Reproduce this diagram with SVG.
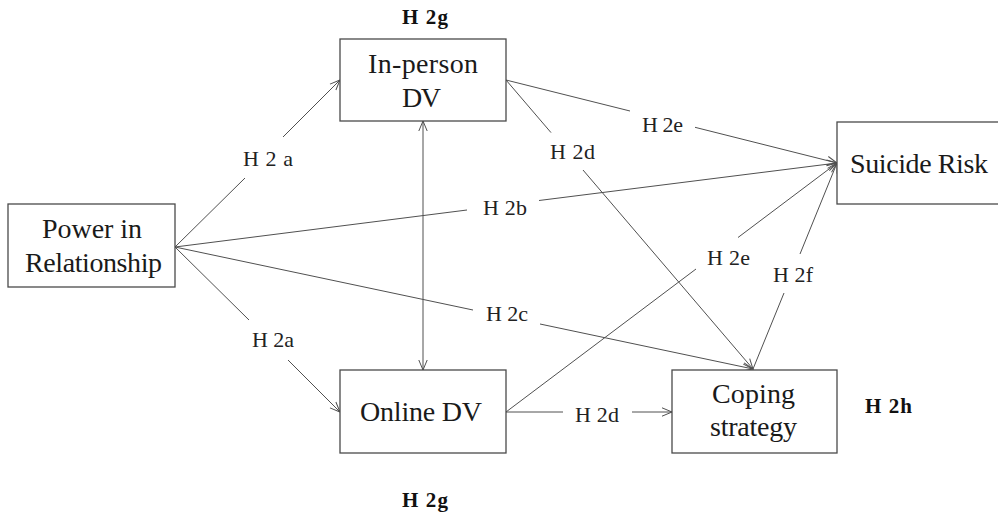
<svg xmlns="http://www.w3.org/2000/svg" width="998" height="512" viewBox="0 0 998 512">
  <style>
    .box { fill: #ffffff; stroke: #4a4a4a; stroke-width: 1.3; }
    .node { font-family: "Liberation Serif", "Times New Roman", serif; font-size: 28px; fill: #1a1a1a; }
    .lbl { font-family: "Liberation Serif", "Times New Roman", serif; font-size: 22px; fill: #222222; }
    .hyp { font-family: "Liberation Serif", "Times New Roman", serif; font-size: 21px; font-weight: bold; fill: #111111; }
    .edge { stroke: #505050; stroke-width: 1; fill: none; }
  </style>
  <defs>
    <marker id="arrow" markerUnits="userSpaceOnUse" markerWidth="14" markerHeight="12" refX="11" refY="6" orient="auto-start-reverse">
      <path d="M1,1.8 L11,6 L1,10.2" fill="none" stroke="#505050" stroke-width="1"/>
    </marker>
  </defs>

  <!-- connectors -->
  <g id="connectors">
    <!-- Power -> In-person DV (H 2 a) -->
    <line class="edge" x1="175" y1="247" x2="245" y2="178"/>
    <line class="edge" x1="283" y1="137" x2="340" y2="80" marker-end="url(#arrow)"/>
    <!-- Power -> Online DV (H 2a) -->
    <line class="edge" x1="175" y1="247" x2="249" y2="320"/>
    <line class="edge" x1="288" y1="360" x2="340" y2="412" marker-end="url(#arrow)"/>
    <!-- Power -> Suicide Risk (H 2b) -->
    <line class="edge" x1="175" y1="247" x2="467" y2="210"/>
    <line class="edge" x1="539" y1="200.5" x2="837" y2="163" marker-end="url(#arrow)"/>
    <!-- Power -> Coping strategy (H 2c) -->
    <line class="edge" x1="175" y1="247" x2="473" y2="310"/>
    <line class="edge" x1="540" y1="324" x2="753" y2="369" marker-end="url(#arrow)"/>
    <!-- In-person DV <-> Online DV -->
    <line class="edge" x1="423" y1="121" x2="423" y2="370" marker-start="url(#arrow)" marker-end="url(#arrow)"/>
    <!-- In-person DV -> Suicide Risk (H 2e) -->
    <line class="edge" x1="506" y1="80" x2="630" y2="111"/>
    <line class="edge" x1="695" y1="127.3" x2="837" y2="163" marker-end="url(#arrow)"/>
    <!-- In-person DV -> Coping strategy (H 2d) -->
    <line class="edge" x1="506" y1="80" x2="551" y2="132.6"/>
    <line class="edge" x1="583" y1="170" x2="753" y2="369" marker-end="url(#arrow)"/>
    <!-- Online DV -> Coping strategy (H 2d) -->
    <line class="edge" x1="506" y1="412" x2="563" y2="412"/>
    <line class="edge" x1="632" y1="412" x2="672" y2="412" marker-end="url(#arrow)"/>
    <!-- Online DV -> Suicide Risk (H 2e) -->
    <line class="edge" x1="506" y1="412" x2="696" y2="269"/>
    <line class="edge" x1="738" y1="237.5" x2="837" y2="163" marker-end="url(#arrow)"/>
    <!-- Coping strategy -> Suicide Risk (H 2f) -->
    <line class="edge" x1="753" y1="369" x2="784" y2="293"/>
    <line class="edge" x1="800" y1="254" x2="837" y2="163" marker-end="url(#arrow)"/>
  </g>

  <!-- connector labels -->
  <g id="edge-labels">
    <text class="lbl" x="243" y="166" textLength="50" lengthAdjust="spacing">H 2 a</text>
    <text class="lbl" x="252" y="347" textLength="42" lengthAdjust="spacing">H 2a</text>
    <text class="lbl" x="483" y="215" textLength="44" lengthAdjust="spacing">H 2b</text>
    <text class="lbl" x="486" y="321" textLength="42" lengthAdjust="spacing">H 2c</text>
    <text class="lbl" x="642" y="132" textLength="41" lengthAdjust="spacing">H 2e</text>
    <text class="lbl" x="550" y="159" textLength="45" lengthAdjust="spacing">H 2d</text>
    <text class="lbl" x="707" y="265" textLength="43" lengthAdjust="spacing">H 2e</text>
    <text class="lbl" x="773" y="282" textLength="40" lengthAdjust="spacing">H 2f</text>
    <text class="lbl" x="575" y="422" textLength="44" lengthAdjust="spacing">H 2d</text>
  </g>

  <!-- hypothesis tags -->
  <g id="hypothesis-tags">
    <text class="hyp" x="402" y="24" textLength="46" lengthAdjust="spacing">H 2g</text>
    <text class="hyp" x="402" y="507" textLength="46" lengthAdjust="spacing">H 2g</text>
    <text class="hyp" x="865" y="413" textLength="47" lengthAdjust="spacing">H 2h</text>
  </g>

  <g id="power">
    <rect class="box" x="8" y="204" width="167" height="83"/>
    <text class="node" x="42" y="238" textLength="100" lengthAdjust="spacing">Power in</text>
    <text class="node" x="25" y="272" textLength="137" lengthAdjust="spacing">Relationship</text>
  </g>

  <g id="inperson-dv">
    <rect class="box" x="340" y="39" width="166" height="82"/>
    <text class="node" x="368" y="73" textLength="110" lengthAdjust="spacing">In-person</text>
    <text class="node" x="402" y="107" textLength="39" lengthAdjust="spacing">DV</text>
  </g>

  <g id="online-dv">
    <rect class="box" x="340" y="370" width="166" height="83"/>
    <text class="node" x="360" y="421" textLength="122" lengthAdjust="spacing">Online DV</text>
  </g>

  <g id="coping">
    <rect class="box" x="672" y="370" width="165" height="83"/>
    <text class="node" x="712" y="403" textLength="83" lengthAdjust="spacing">Coping</text>
    <text class="node" x="710" y="436" textLength="87" lengthAdjust="spacing">strategy</text>
  </g>

  <g id="suicide-risk">
    <rect class="box" x="837" y="122" width="170" height="82"/>
    <text class="node" x="850" y="173" textLength="138" lengthAdjust="spacing">Suicide Risk</text>
  </g>
</svg>
